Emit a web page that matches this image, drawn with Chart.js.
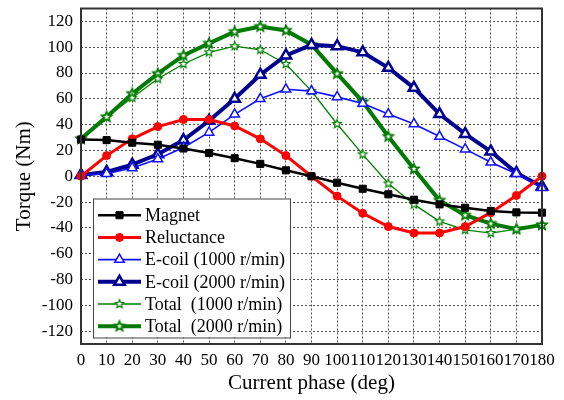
<!DOCTYPE html>
<html><head><meta charset="utf-8">
<script src="https://cdn.jsdelivr.net/npm/chart.js@4/dist/chart.umd.min.js"></script>
<style>html,body{margin:0;padding:0;background:#fff}</style>
</head><body>
<canvas id="c" width="564" height="400"></canvas>
<script>
const phases = [0,10,20,30,40,50,60,70,80,90,100,110,120,130,140,150,160,170,180];
const magnet = [28.5,28,26,24.4,21.5,18,14,9.6,4.6,0,-5,-9.7,-14,-18.2,-21.8,-24.4,-26.9,-28,-28.2];
const reluctance = [0,16,29,38.5,44,44,39,29,16,0,-15.4,-28.7,-39,-44,-44,-39,-28.2,-14.9,0];
const ecoil1000 = [1,2,6.4,13.3,22.3,34,48,60,67.4,66,61.5,56.4,48.2,40.5,30.8,21,10.8,2,-9];
const ecoil2000 = [1,3.3,9,17,28,43,60,78.7,93.6,101.8,100.8,96,84,68.5,48.2,32.8,19.2,2.6,-8];
const total1000 = [29,46,60.8,75.6,87,96,100.8,98,87,66,40.5,17,-5.6,-21.8,-35,-41.5,-44,-41,-37.7];
const total2000 = [29,46,64,79.5,93.6,103,112,116,113,102,79.5,57.7,30.8,5.6,-18.7,-30.2,-36.7,-41,-37.7];
const yTicks = [-120,-100,-80,-60,-40,-20,0,20,40,60,80,100,120];
const seriesNames = ['Magnet','Reluctance','E-coil (1000 r/min)','E-coil (2000 r/min)','Total  (1000 r/min)','Total  (2000 r/min)'];

function starImg(r, lw, color) {
  const s = Math.ceil(2 * r + lw * 2 + 2);
  const c = document.createElement('canvas'); c.width = s; c.height = s;
  const g = c.getContext('2d');
  g.translate(s / 2, s / 2);
  g.beginPath();
  for (let i = 0; i < 10; i++) {
    const rr = i % 2 ? r * 0.45 : r;
    const ang = -Math.PI / 2 + i * Math.PI / 5;
    g.lineTo(rr * Math.cos(ang), rr * Math.sin(ang));
  }
  g.closePath();
  g.fillStyle = '#fff'; g.fill();
  g.strokeStyle = color; g.lineWidth = lw; g.lineJoin = 'miter'; g.stroke();
  return c;
}
const starThin = starImg(4.5, 1.2, '#008000');
const starThick = starImg(5, 1.8, '#007a00');

const SERIF = '"Liberation Serif", "Times New Roman", serif';

const frameLegend = {
  id: 'frameLegend',
  afterDatasetsDraw(chart) {
    const ctx = chart.ctx, a = chart.chartArea;
    ctx.save();
    ctx.strokeStyle = '#333'; ctx.lineWidth = 2;
    ctx.strokeRect(a.left, a.top, a.right - a.left, a.bottom - a.top);
    const bx = a.left + 12, by = a.top + 190, bw = 197, bh = 139;
    ctx.fillStyle = '#fff';
    ctx.fillRect(bx, by, bw, bh);
    ctx.strokeStyle = '#444'; ctx.lineWidth = 1;
    ctx.strokeRect(bx + 0.5, by + 0.5, bw, bh);
    chart.data.datasets.forEach((ds, i) => {
      const y = by + 16.7 + i * 22.2;
      const x0 = bx + 5, x1 = bx + 48, xm = (x0 + x1) / 2;
      ctx.strokeStyle = ds.borderColor; ctx.lineWidth = ds.borderWidth;
      ctx.setLineDash([]);
      ctx.beginPath(); ctx.moveTo(x0, y); ctx.lineTo(x1, y); ctx.stroke();
      ctx.fillStyle = ds.pointBackgroundColor; ctx.strokeStyle = ds.borderColor;
      ctx.lineWidth = ds.pointBorderWidth;
      Chart.helpers.drawPoint(ctx, {pointStyle: ds.pointStyle, radius: ds.pointRadius, borderWidth: ds.pointBorderWidth, rotation: 0}, xm, y);
      ctx.fillStyle = '#000';
      ctx.font = '18px ' + SERIF;
      ctx.textBaseline = 'middle'; ctx.textAlign = 'left';
      ctx.fillText(ds.label, bx + 52, y + 1);
    });
    ctx.restore();
  }
};

new Chart(document.getElementById('c'), {
  type: 'line',
  data: {
    labels: phases,
    datasets: [
      {label: seriesNames[0], data: magnet, borderColor: '#000000', borderWidth: 2.5, pointStyle: 'rect', pointRadius: 5, pointBackgroundColor: '#000000', pointBorderWidth: 1},
      {label: seriesNames[1], data: reluctance, borderColor: '#ff0000', borderWidth: 3, pointStyle: 'circle', pointRadius: 4, pointBackgroundColor: '#ff0000', pointBorderWidth: 1},
      {label: seriesNames[2], data: ecoil1000, borderColor: '#1010ff', borderWidth: 1.6, pointStyle: 'triangle', pointRadius: 5.5, pointBackgroundColor: '#ffffff', pointBorderWidth: 1.5},
      {label: seriesNames[3], data: ecoil2000, borderColor: '#000090', borderWidth: 4, pointStyle: 'triangle', pointRadius: 6, pointBackgroundColor: '#ffffff', pointBorderWidth: 2.5},
      {label: seriesNames[4], data: total1000, borderColor: '#008000', borderWidth: 1.3, pointStyle: starThin, pointRadius: 5, pointBackgroundColor: '#ffffff', pointBorderWidth: 1.2},
      {label: seriesNames[5], data: total2000, borderColor: '#007a00', borderWidth: 4, pointStyle: starThick, pointRadius: 5, pointBackgroundColor: '#ffffff', pointBorderWidth: 1.8}
    ]
  },
  options: {
    responsive: false,
    animation: false,
    devicePixelRatio: 1,
    elements: {line: {tension: 0}},
    layout: {padding: {top: 5, right: 22, left: 0, bottom: 0}},
    plugins: {legend: {display: false}, tooltip: {enabled: false}},
    scales: {
      x: {
        type: 'category',
        offset: false,
        afterFit: s => { s.height = 56; s.paddingLeft = 0; s.paddingRight = 0; },
        grid: {color: '#555', lineWidth: 1, drawTicks: false, offset: false},
        border: {display: false, dash: [2, 2]},
        ticks: {autoSkip: false, maxRotation: 0, minRotation: 0, padding: 6, color: '#000', font: {family: SERIF, size: 17}},
        title: {display: true, text: 'Current phase (deg)', color: '#000', font: {family: SERIF, size: 21}, padding: {top: 0, bottom: 4}}
      },
      y: {
        min: -130, max: 130,
        afterFit: s => { s.width = 81; s.paddingTop = 0; s.paddingBottom = 0; },
        afterBuildTicks: s => { s.ticks = yTicks.map(v => ({value: v})); },
        grid: {color: '#555', lineWidth: 1, drawTicks: false},
        border: {display: false, dash: [2, 2]},
        ticks: {padding: 8, color: '#000', font: {family: SERIF, size: 17}},
        title: {display: true, text: 'Torque (Nm)', color: '#000', font: {family: SERIF, size: 21}, padding: {top: 12, bottom: 0}}
      }
    }
  },
  plugins: [frameLegend]
});
</script>
</body></html>
